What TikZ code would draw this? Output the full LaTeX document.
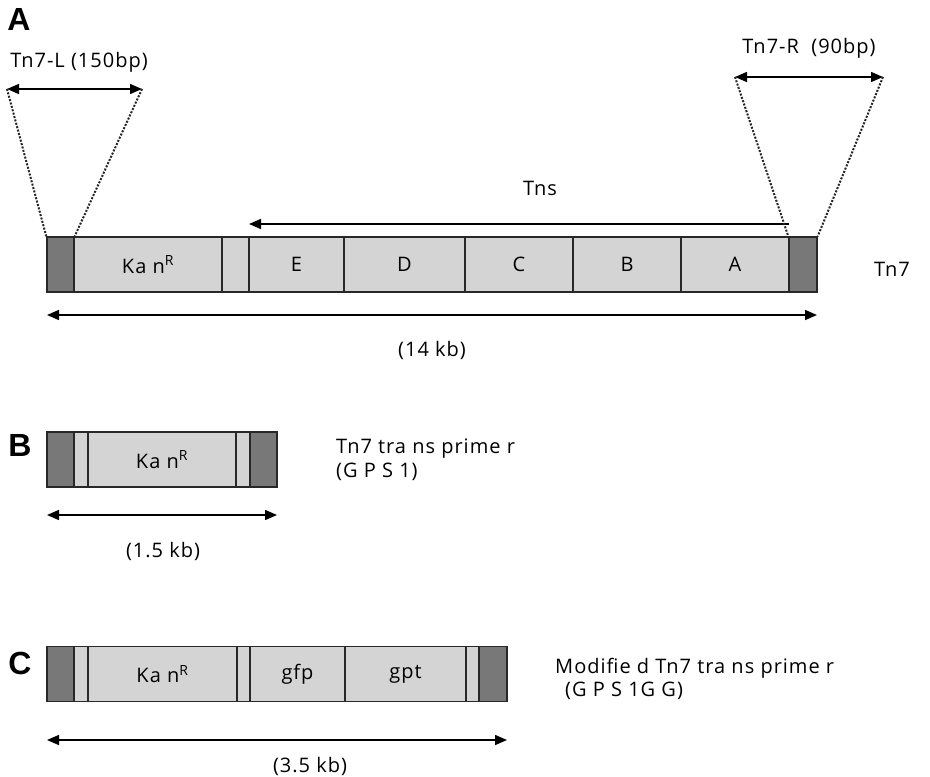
\documentclass[tikz,border=0pt]{standalone}
\usepackage{fontspec}
\setmainfont{Open Sans}[LetterSpace=5]
\newfontfamily\panelfont{Liberation Sans}
\usetikzlibrary{arrows.meta}
\definecolor{segfill}{RGB}{212,212,212}
\definecolor{tnfill}{RGB}{120,120,120}
\definecolor{segline}{RGB}{40,40,40}
\newcommand\lbltext{\fontsize{20}{24}\selectfont}
\begin{document}
\begin{tikzpicture}[x=1pt, y=-1pt, >={Triangle[length=12pt,width=10pt]},
  seg/.style={draw=segline, line width=1.5pt, fill=segfill, minimum height=55pt, inner sep=0pt, font=\lbltext},
  tnend/.style={seg, fill=tnfill},
  dim/.style={<->, line width=1.5pt},
  dots/.style={dash pattern=on 2pt off 1.5pt, line width=2pt, draw=black!85},
  txt/.style={inner sep=0pt, font=\lbltext},
  panel/.style={inner sep=0pt, font=\panelfont\bfseries\fontsize{32}{34}\selectfont}]
  \useasboundingbox (0,0) rectangle (930,777);

  % A: Tn7
  \node[panel] (pa) at (19,19) {A};
  \node[tnend, minimum width=27pt] (lA) at (60.5,264.5) {};
  \node[seg, minimum width=148pt] (kanA) at (148,264.5) {Ka n\textsuperscript{R}};
  \node[seg, minimum width=27pt] (spA) at (235.5,264.5) {};
  \node[seg, minimum width=95pt] (eA) at (296.5,264.5) {E};
  \node[seg, minimum width=121pt] (dA) at (404.5,264.5) {D};
  \node[seg, minimum width=108pt] (cA) at (519,264.5) {C};
  \node[seg, minimum width=108pt] (bA) at (627,264.5) {B};
  \node[seg, minimum width=108pt] (aA) at (735,264.5) {A};
  \node[tnend, minimum width=28pt] (rA) at (803,264.5) {};
  \node[txt] (tnA) at (892,269) {Tn7};

  \coordinate (tnsR) at (789,224);
  \coordinate (tnsL) at (249,224);
  \draw[->, line width=1.5pt] (tnsR) -- (tnsL);
  \node[txt] (tns) at (540,188) {Tns};

  \coordinate (tnlL) at (7,89);
  \coordinate (tnlR) at (142,89);
  \draw[dim] (tnlL) -- (tnlR);
  \node[txt] (tnlab) at (79,62) {Tn7-L (150bp)};
  \draw[dots] (tnlL) -- (lA.north west);
  \draw[dots] (tnlR) -- (lA.north east);

  \coordinate (tnrL) at (735,77);
  \coordinate (tnrR) at (883,77);
  \draw[dim] (tnrL) -- (tnrR);
  \node[txt] (tnrlab) at (809,48) {Tn7-R\ \ (90bp)};
  \draw[dots] (tnrL) -- (rA.north west);
  \draw[dots] (tnrR) -- (rA.north east);

  \coordinate (sizeAL) at (47,315);
  \coordinate (sizeAR) at (817,315);
  \draw[dim] (sizeAL) -- (sizeAR);
  \node[txt] (sizeA) at (432,350) {(14 kb)};

  % B: GPS1
  \node[panel] (pb) at (20,445) {B};
  \node[tnend, minimum width=27pt] (lB) at (60.5,459.5) {};
  \node[seg, minimum width=14pt] (sB1) at (81,459.5) {};
  \node[seg, minimum width=148pt] (kanB) at (162,459.5) {Ka n\textsuperscript{R}};
  \node[seg, minimum width=14pt] (sB2) at (243,459.5) {};
  \node[tnend, minimum width=27pt] (rB) at (263.5,459.5) {};
  \node[txt, anchor=west] (gpsB) at (336,449) {Tn7 tra ns prime r};
  \node[txt, anchor=west] (gpsB2) at (336,472) {(G P S 1)};

  \coordinate (sizeBL) at (47,515);
  \coordinate (sizeBR) at (277,515);
  \draw[dim] (sizeBL) -- (sizeBR);
  \node[txt] (sizeB) at (163,551) {(1.5 kb)};

  % C: GPS1GG
  \node[panel] (pc) at (20,663) {C};
  \node[tnend, minimum width=27pt] (lC) at (60.5,674) {};
  \node[seg, minimum width=14pt] (sC1) at (81,674) {};
  \node[seg, minimum width=149pt] (kanC) at (162.5,674) {Ka n\textsuperscript{R}};
  \node[seg, minimum width=13pt] (sC2) at (243.5,674) {};
  \node[seg, minimum width=95pt] (gfpC) at (297.5,674) {gfp};
  \node[seg, minimum width=121pt] (gptC) at (405.5,674) {gpt};
  \node[seg, minimum width=13pt] (sC3) at (472.5,674) {};
  \node[tnend, minimum width=28pt] (rC) at (493,674) {};
  \node[txt, anchor=west] (gpsC) at (555,668) {Modifie d Tn7 tra ns prime r};
  \node[txt, anchor=west] (gpsC2) at (565,691) {(G P S 1G G)};

  \coordinate (sizeCL) at (47,740);
  \coordinate (sizeCR) at (507,740);
  \draw[dim] (sizeCL) -- (sizeCR);
  \node[txt] (sizeC) at (310,766) {(3.5 kb)};
\end{tikzpicture}
\end{document}
